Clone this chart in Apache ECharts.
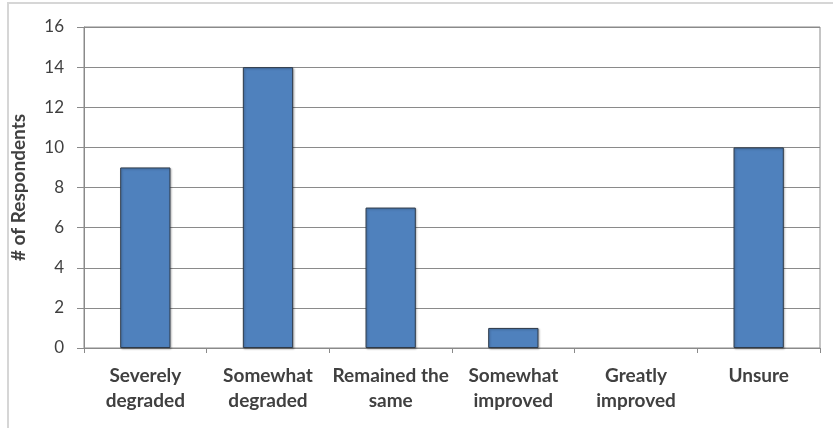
<!DOCTYPE html>
<html>
<head>
<meta charset="utf-8">
<script src="https://cdn.jsdelivr.net/npm/echarts@6/dist/echarts.min.js"></script>
<style>
  html, body { margin: 0; padding: 0; background: #fff; }
  #chart { width: 833px; height: 428px; }
</style>
</head>
<body>
<div id="chart"></div>
<script>
// Survey responses per outcome
const categories = [
  'Severely\ndegraded',
  'Somewhat\ndegraded',
  'Remained the\nsame',
  'Somewhat\nimproved',
  'Greatly\nimproved',
  'Unsure'
];
const respondents = [9, 14, 7, 1, 0, 10];
const yAxisTitle = '# of Respondents';

const FONT = 'Lato, "Open Sans", sans-serif';
const chart = echarts.init(document.getElementById('chart'), null, { renderer: 'canvas' });

// empty bars get no outline so nothing shows at zero
const barData = respondents.map(v => v === 0
  ? { value: v, itemStyle: { borderWidth: 0, shadowBlur: 0, shadowOffsetX: 0, shadowOffsetY: 0, opacity: 0 } }
  : v);

chart.setOption({
  animation: false,
  backgroundColor: '#ffffff',
  graphic: [{
    type: 'rect',
    silent: true,
    shape: { x: 8, y: 3, width: 840, height: 440 },
    style: { fill: 'none', stroke: '#d6d6d6', lineWidth: 2 }
  }],
  grid: {
    left: 84, top: 27, right: 13, bottom: 80,
    show: true, borderColor: '#8a8a8a', borderWidth: 1,
    containLabel: false
  },
  xAxis: {
    type: 'category',
    data: categories,
    boundaryGap: true,
    axisLine: { show: true, lineStyle: { color: '#8a8a8a', width: 1 } },
    axisTick: { show: true, alignWithLabel: false, interval: 0, length: 5, lineStyle: { color: '#8a8a8a' } },
    axisLabel: {
      interval: 0, margin: 15,
      fontFamily: FONT, fontSize: 19, fontWeight: 'bold',
      color: '#404040', lineHeight: 25
    }
  },
  yAxis: {
    type: 'value',
    min: 0, max: 16, interval: 2,
    name: yAxisTitle,
    nameLocation: 'middle',
    nameGap: 56,
    nameRotate: 90,
    nameTextStyle: { fontFamily: FONT, fontSize: 19, fontWeight: 'bold', color: '#404040' },
    axisLine: { show: true, lineStyle: { color: '#8a8a8a', width: 1 } },
    axisTick: { show: true, length: 7, lineStyle: { color: '#8a8a8a' } },
    splitLine: { show: true, lineStyle: { color: '#8a8a8a', width: 1 } },
    axisLabel: { margin: 20, fontFamily: FONT, fontSize: 17, color: '#404040' }
  },
  series: [{
    type: 'bar',
    data: barData,
    barWidth: '41%',
    itemStyle: {
      color: '#4f81bd',
      borderColor: '#2f3b4a',
      borderWidth: 1,
      shadowColor: 'rgba(0,0,0,0.25)',
      shadowBlur: 2,
      shadowOffsetX: 1,
      shadowOffsetY: 1
    }
  }]
});
</script>
</body>
</html>
